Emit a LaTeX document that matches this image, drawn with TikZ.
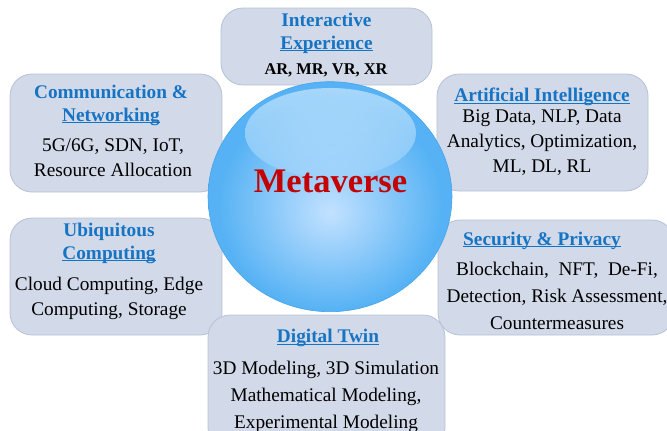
\documentclass[tikz,border=0pt]{standalone}
\usepackage{fontspec}
\setmainfont{Liberation Serif}
\usetikzlibrary{shapes.geometric}

\definecolor{boxfill}{RGB}{210,217,232}
\definecolor{boxline}{RGB}{182,194,215}
\definecolor{ttlblue}{RGB}{22,116,196}
\definecolor{metared}{RGB}{196,0,0}
\definecolor{ballin}{RGB}{194,225,255}
\definecolor{ballmid}{RGB}{86,178,244}
\definecolor{ballout}{RGB}{60,156,228}
\definecolor{ballrim}{RGB}{70,164,232}
\definecolor{glosstop}{RGB}{234,246,255}
\definecolor{glossbot}{RGB}{160,212,252}

\pgfdeclareradialshading{metaball}{\pgfpoint{0bp}{-3.5bp}}{color(0bp)=(ballin); color(23bp)=(ballmid); color(43bp)=(ballmid); color(47bp)=(ballout); color(50bp)=(ballrim)}

\newcommand{\tul}[1]{\underline{\smash{#1}}}

\begin{document}
\begin{tikzpicture}[x=1pt,y=-1pt,
    topic/.style={draw=boxline, fill=boxfill, line width=0.8pt, rounded corners=22pt, inner sep=0pt},
    ttl/.style={font=\fontsize{19.3}{23}\selectfont\bfseries, text=ttlblue, align=center, inner sep=0pt},
    items/.style={font=\fontsize{19.3}{25}\selectfont, align=center, inner sep=0pt}]
  \useasboundingbox (0,0) rectangle (667,431);
  \clip (0,0) rectangle (667,431);

  % topic boxes
  \node[topic, minimum width=211pt, minimum height=77pt] (ie) at (326.5,46.5) {};
  \node[topic, minimum width=212pt, minimum height=118pt] (cn) at (116,133) {};
  \node[topic, minimum width=211pt, minimum height=117pt] (ai) at (542.5,132.5) {};
  \node[topic, minimum width=212pt, minimum height=117pt] (uc) at (116,276.5) {};
  \node[topic, minimum width=236pt, minimum height=115pt] (sp) at (556,277.5) {};
  \node[topic, minimum width=237pt, minimum height=135pt] (dt) at (326.5,382.5) {};

  % texts
  \node[ttl] (ie-t) at (326.5,32) {Interactive\\\tul{Experience}};
  \node[font=\fontsize{16.4}{20}\selectfont\bfseries, inner sep=0pt, anchor=base] (ie-b) at (326,74) {AR, MR, VR, XR};

  \node[ttl] (cn-t) at (111,104) {Communication \&\\\tul{Networking}};
  \node[items] (cn-b) at (113,158) {5G/6G, SDN, IoT,\\Resource Allocation};

  \node[ttl, anchor=base] (ai-t) at (542,101.7) {\tul{Artificial Intelligence}};
  \node[items] (ai-b) at (542,143) {Big Data, NLP, Data\\Analytics, Optimization,\\ML, DL, RL};

  \node[ttl] (uc-t) at (109,242) {Ubiquitous\\\tul{Computing}};
  \node[items] (uc-b) at (109,298) {Cloud Computing, Edge\\Computing, Storage};

  \node[ttl, anchor=base] (sp-t) at (542,245) {\tul{Security \& Privacy}};
  \node[items, font=\fontsize{19.3}{27}\selectfont] (sp-b) at (557,296) {Blockchain,\ \ NFT,\ \ De-Fi,\\Detection, Risk Assessment,\\Countermeasures};

  \node[ttl, anchor=base] (dt-t) at (328,342.3) {\tul{Digital Twin}};
  \node[items, font=\fontsize{19.3}{27}\selectfont] (dt-b) at (326,396.5) {3D Modeling, 3D Simulation\\Mathematical Modeling,\\Experimental Modeling};

  % sphere
  \node[ellipse, shade, shading=metaball, draw=ballrim, line width=0.6pt, minimum width=244pt, minimum height=230pt] (ball) at (330,196.7) {};
  \shade[top color=glosstop, bottom color=glossbot, fill opacity=0.55] (330.5,133) ellipse [x radius=85.5pt, y radius=45pt];
  \node[font=\fontsize{34.5}{40}\selectfont\bfseries, text=metared, inner sep=0pt, anchor=base] (meta) at (330.5,192.7) {Metaverse};
\end{tikzpicture}
\end{document}
